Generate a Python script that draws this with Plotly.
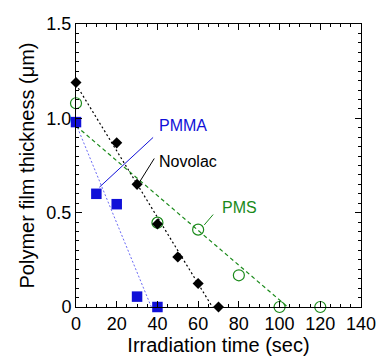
import plotly.graph_objects as go

# Data
novolac_t = [0, 20, 30, 40, 50, 60, 70]
novolac_y = [1.19, 0.87, 0.65, 0.44, 0.265, 0.125, 0.0]
pmma_t = [0, 10, 20, 30, 40]
pmma_y = [0.98, 0.60, 0.545, 0.055, 0.0]
pms_t = [0, 40, 60, 80, 100, 120]
pms_y = [1.08, 0.447, 0.41, 0.168, 0.0, 0.0]

# Linear fit lines (endpoints)
novolac_fit_t = [0, 67]
novolac_fit_y = [1.18, 0.0]
pmma_fit_t = [0, 37]
pmma_fit_y = [0.97, 0.0]
pms_fit_t = [0, 104]
pms_fit_y = [0.96, 0.0]

BLUE = "#1010d8"
GREEN = "#1a8a1a"
FONT = "Liberation Sans, Arial, sans-serif"

fig = go.Figure()
fig.add_trace(go.Scatter(x=novolac_fit_t, y=novolac_fit_y, mode="lines",
                         line=dict(color="black", width=1.2, dash="2px,2.5px"), cliponaxis=False))
fig.add_trace(go.Scatter(x=pmma_fit_t, y=pmma_fit_y, mode="lines",
                         line=dict(color="#6a6af5", width=1, dash="2px,2px"), cliponaxis=False))
fig.add_trace(go.Scatter(x=pms_fit_t, y=pms_fit_y, mode="lines",
                         line=dict(color=GREEN, width=1.2, dash="4px,3px"), cliponaxis=False))
fig.add_trace(go.Scatter(x=pms_t, y=pms_y, mode="markers",
                         marker=dict(symbol="circle-open", size=11, color=GREEN, line=dict(width=1.2, color=GREEN)),
                         cliponaxis=False))
fig.add_trace(go.Scatter(x=novolac_t, y=novolac_y, mode="markers",
                         marker=dict(symbol="diamond", size=8.5, color="black"), cliponaxis=False))
fig.add_trace(go.Scatter(x=pmma_t, y=pmma_y, mode="markers",
                         marker=dict(symbol="square", size=10.5, color=BLUE), cliponaxis=False))

ann = [
    dict(text="PMMA", color=BLUE, x=11.5, y=0.635, ax=38.6, ay=0.906, tx=41, ty=0.96),
    dict(text="Novolac", color="black", x=31.2, y=0.662, ax=38.9, ay=0.795, tx=41, ty=0.77),
    dict(text="PMS", color=GREEN, x=63, y=0.435, ax=68, ay=0.498, tx=71.5, ty=0.525),
]
for a in ann:
    fig.add_annotation(x=a["x"], y=a["y"], ax=a["ax"], ay=a["ay"], xref="x", yref="y",
                       axref="x", ayref="y", showarrow=True, arrowhead=0, arrowwidth=1,
                       arrowcolor=a["color"], text="")
    fig.add_annotation(x=a["tx"], y=a["ty"], xref="x", yref="y", text=a["text"], showarrow=False,
                       xanchor="left", yanchor="middle", xshift=-2,
                       font=dict(color=a["color"], size=16, family=FONT))

axis_common = dict(showgrid=False, zeroline=False, showline=True, linecolor="black", linewidth=1,
                   mirror="ticks", ticks="inside", ticklen=6, tickcolor="black", automargin=False,
                   tickfont=dict(size=18, family=FONT, color="black"))
fig.update_xaxes(range=[0, 140], tickvals=[0, 20, 40, 60, 80, 100, 120, 140],
                 minor=dict(dtick=5, ticks="inside", ticklen=3, tickcolor="black"),
                 title=dict(text="Irradiation time (sec)", font=dict(size=20, family=FONT, color="black"), standoff=4),
                 **axis_common)
fig.update_yaxes(range=[0, 1.5], tickvals=[0, 0.5, 1.0, 1.5], ticktext=["0", "0.5", "1.0", "1.5"],
                 minor=dict(dtick=0.05, ticks="inside", ticklen=3, tickcolor="black"),
                 title=dict(text="Polymer film thickness (μm)", font=dict(size=20, family=FONT, color="black"), standoff=6),
                 **axis_common)
fig.update_layout(width=377, height=358, margin=dict(l=76, r=16, t=24, b=51),
                  plot_bgcolor="white", paper_bgcolor="white", showlegend=False)
fig.write_html("out.html", config={"displayModeBar": False},
               post_script="document.body.style.margin='0';")
